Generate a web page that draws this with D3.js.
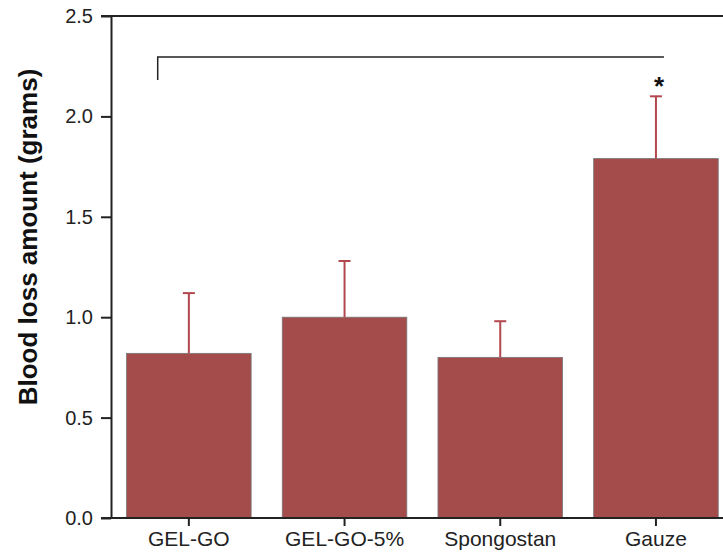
<!DOCTYPE html>
<html>
<head>
<meta charset="utf-8">
<script src="https://cdn.jsdelivr.net/npm/d3@7"></script>
<style>
  body { margin: 0; background: #fff; }
  svg { font-family: Arial, "Liberation Sans", sans-serif; }
</style>
</head>
<body>
<svg id="chart" width="723" height="552"></svg>
<script>
const groups = ['GEL-GO', 'GEL-GO-5%', 'Spongostan', 'Gauze'];
const means = [0.82, 1.0, 0.80, 1.79];
const errors = [0.30, 0.28, 0.18, 0.31];
const yTicks = [0.0, 0.5, 1.0, 1.5, 2.0, 2.5];

const svg = d3.select('#chart');
const plotLeft = 111, plotTop = 16, plotBottom = 518;

const x = d3.scaleBand()
    .domain(groups)
    .range([plotLeft, plotLeft + 4 * 155.7])
    .paddingInner(0.2)
    .paddingOuter(0.1);
const y = d3.scaleLinear().domain([0, 2.5]).range([plotBottom, plotTop]);

// bars
svg.selectAll('rect.bar')
    .data(groups)
    .enter()
    .append('rect')
    .attr('class', 'bar')
    .attr('x', d => x(d))
    .attr('y', (d, i) => y(means[i]))
    .attr('width', x.bandwidth())
    .attr('height', (d, i) => y(0) - y(means[i]))
    .attr('fill', '#a44c4c')
    .attr('stroke', '#777')
    .attr('stroke-width', 0.8);

// error bars
const err = svg.append('g').attr('stroke', '#b2474d').attr('stroke-width', 2);
groups.forEach((g, i) => {
    const cx = x(g) + x.bandwidth() / 2;
    err.append('line')
        .attr('x1', cx).attr('x2', cx)
        .attr('y1', y(means[i])).attr('y2', y(means[i] + errors[i]));
    err.append('line')
        .attr('x1', cx - 6).attr('x2', cx + 6)
        .attr('y1', y(means[i] + errors[i])).attr('y2', y(means[i] + errors[i]));
});

// axes
const yAxis = svg.append('g')
    .attr('transform', `translate(${plotLeft},0)`)
    .call(d3.axisLeft(y).tickValues(yTicks).tickFormat(d3.format('.1f')).tickSize(10).tickSizeOuter(0));
yAxis.select('.domain').attr('stroke', '#222').attr('stroke-width', 2);
yAxis.selectAll('.tick line').attr('stroke', '#222').attr('stroke-width', 2);
yAxis.selectAll('.tick text').attr('font-size', 20).attr('fill', '#222').attr('x', -18);

const xAxis = svg.append('g')
    .attr('transform', `translate(0,${plotBottom})`)
    .call(d3.axisBottom(x).tickSize(8).tickSizeOuter(0));
xAxis.select('.domain').remove();
xAxis.selectAll('.tick line').attr('stroke', '#222').attr('stroke-width', 2);
xAxis.selectAll('.tick text').attr('font-size', 21).attr('fill', '#222').attr('y', 28).attr('dy', 0);

// bottom and top frame lines
svg.append('line').attr('x1', 101).attr('x2', 723).attr('y1', y(0)).attr('y2', y(0))
    .attr('stroke', '#222').attr('stroke-width', 2);
svg.append('line').attr('x1', 101).attr('x2', 723).attr('y1', y(2.5)).attr('y2', y(2.5))
    .attr('stroke', '#222').attr('stroke-width', 2);

// significance bracket
const bx1 = x('GEL-GO') + x.bandwidth() / 4;
const bx2 = x('Gauze') + x.bandwidth() / 2 + 8;
svg.append('path')
    .attr('d', `M${bx1},80 V57 H${bx2}`)
    .attr('fill', 'none').attr('stroke', '#222').attr('stroke-width', 1.5);
svg.append('text')
    .attr('x', x('Gauze') + x.bandwidth() / 2 + 3)
    .attr('y', y(means[3] + errors[3]) - 1)
    .attr('text-anchor', 'middle')
    .attr('font-size', 26).attr('font-weight', 'bold').attr('fill', '#111')
    .text('*');

// y label
svg.append('text')
    .attr('transform', `translate(37,237) rotate(-90)`)
    .attr('text-anchor', 'middle')
    .attr('font-size', 26).attr('font-weight', 'bold').attr('fill', '#111')
    .text('Blood loss amount (grams)');
</script>
</body>
</html>
